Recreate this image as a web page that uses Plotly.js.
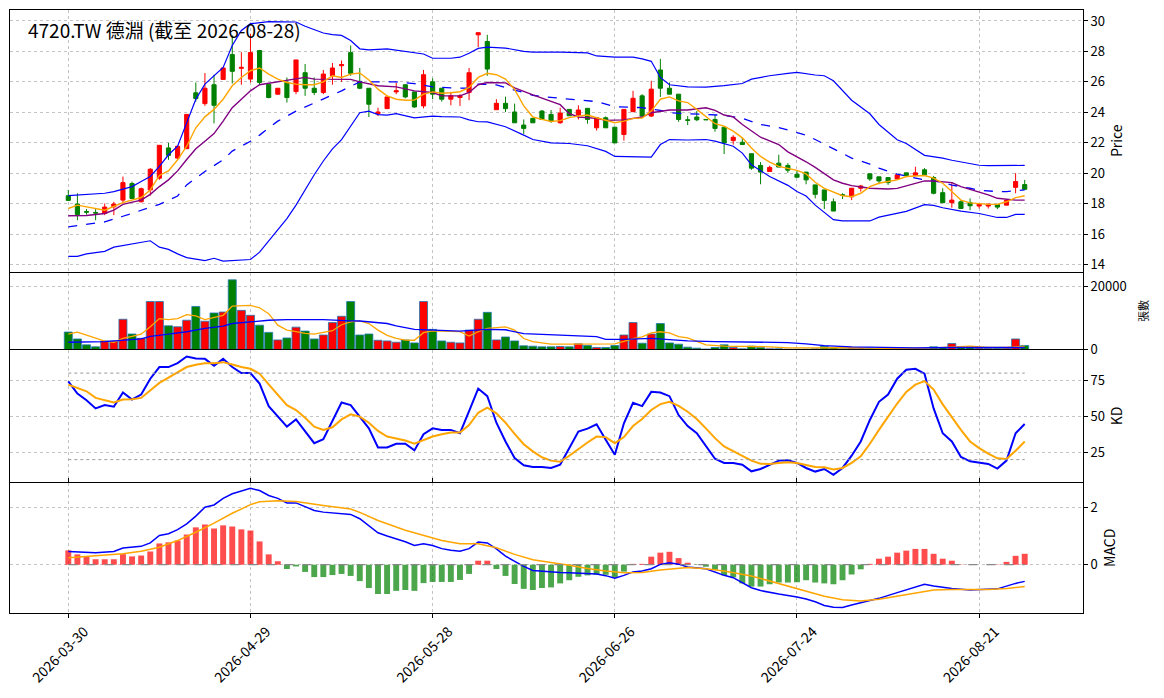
<!DOCTYPE html>
<html>
<head>
<meta charset="utf-8">
<script src="https://cdn.plot.ly/plotly-3.0.1.min.js"></script>
<style>html,body{margin:0;padding:0;background:#fff;}</style>
</head>
<body>
<div id="chart" style="width:1164px;height:698px;"></div>
<script>
// 4720.TW daily bars
let tickIdx = [0, 20, 40, 60, 80, 100];
let tickLabels = ['2026-03-30', '2026-04-29', '2026-05-28', '2026-06-26', '2026-07-24', '2026-08-21'];

let open = [18.52,17.97,17.48,17.42,17.35,17.79,18.23,19.32,18.12,18.90,
19.67,21.66,20.99,21.61,25.28,24.57,25.81,26.16,27.79,26.89,
26.18,28.06,25.85,25.19,25.96,25.36,26.60,25.58,25.30,26.40,
27.06,27.92,26.03,25.58,23.91,24.24,25.34,25.81,25.34,24.42,
26.00,25.58,24.86,24.97,25.30,29.09,28.65,24.17,24.59,24.02,
23.16,23.60,24.08,23.86,23.31,24.19,23.82,24.26,22.98,23.64,
23.02,22.54,24.04,25.08,23.75,26.78,25.58,25.19,23.51,23.69,
23.53,23.53,23.02,22.14,22.03,21.28,20.51,20.11,20.66,20.51,
19.93,20.07,19.23,18.90,18.12,18.59,18.45,19.01,19.96,19.76,
19.71,19.62,20.02,19.85,20.22,19.71,18.72,18.06,18.12,18.06,
17.84,17.84,17.95,17.90,19.07,19.25];
let high = [18.90,18.68,17.64,17.67,18.01,18.12,19.78,19.45,19.05,20.33,
21.83,21.99,21.77,23.86,25.96,26.58,26.47,26.91,29.05,27.95,
29.16,28.06,25.85,25.58,26.29,27.44,27.17,26.29,26.78,27.24,
27.40,28.39,26.91,25.58,24.30,25.01,25.94,25.81,25.34,26.78,
26.23,25.58,25.34,25.19,26.91,29.23,29.09,24.86,25.03,24.57,
23.53,23.60,24.15,24.15,24.30,24.19,24.46,24.26,23.64,23.73,
23.02,24.19,25.41,25.19,26.07,27.51,25.96,25.19,23.75,24.08,
23.53,23.82,23.02,22.49,22.32,21.28,20.73,20.49,21.21,20.66,
20.15,20.07,19.23,18.90,18.34,18.68,19.01,19.23,19.96,19.76,
19.71,19.89,20.02,20.42,20.33,19.82,19.01,19.40,18.23,18.34,
17.97,17.97,17.95,18.23,20.00,19.56];
let low = [18.21,16.91,17.28,16.91,17.24,17.24,18.01,18.34,18.08,18.52,
19.56,20.88,20.88,21.61,24.70,24.42,23.27,26.16,25.89,25.81,
25.96,25.81,24.92,25.14,24.64,25.19,25.08,25.14,25.19,25.81,
26.00,26.40,25.52,23.69,23.75,24.24,25.19,24.92,24.30,24.26,
24.86,24.70,24.46,24.42,24.79,28.28,26.40,24.17,24.02,23.31,
22.58,23.31,23.53,23.31,23.25,23.77,23.53,23.25,22.80,22.98,
21.99,22.14,24.04,23.75,23.69,25.01,25.19,23.38,23.16,23.42,
23.51,22.72,21.26,21.88,21.88,20.22,19.27,20.11,20.40,20.02,
19.73,19.27,18.34,17.64,17.51,18.30,18.23,18.79,19.49,19.27,
19.23,19.62,19.85,19.85,19.89,18.61,18.06,17.73,17.68,17.57,
17.68,17.68,17.64,17.90,18.68,18.94];
let close = [18.21,17.28,17.44,17.38,17.77,17.97,19.38,18.34,18.98,20.26,
21.83,21.17,21.77,23.86,24.90,25.58,24.46,26.91,26.69,26.95,
27.92,25.96,24.97,25.58,24.97,27.44,25.58,25.30,26.51,26.91,
27.13,26.56,25.58,24.53,24.02,25.01,25.41,25.01,24.35,26.47,
25.19,24.86,25.08,25.08,26.60,29.23,26.84,24.59,24.24,23.31,
22.94,23.31,23.53,23.42,23.95,23.77,24.15,23.53,23.64,22.98,
21.99,24.19,24.92,23.75,25.52,25.58,25.19,23.53,23.47,23.51,
23.51,22.94,21.99,22.36,21.88,20.33,20.07,20.38,20.40,20.20,
19.73,19.56,18.61,18.21,17.51,18.54,19.01,19.16,19.62,19.49,
19.38,19.89,19.85,20.02,19.89,18.68,18.06,18.23,17.68,17.86,
17.97,17.97,17.77,18.23,19.45,18.94];
let volume = [5570,3360,1470,840,2730,2730,9660,4940,3570,15330,
15330,7560,7250,9350,13760,9030,11660,11970,22260,12500,
10920,7770,5460,3050,3680,7140,5880,3360,4620,8610,
10610,15330,4620,4940,2940,2730,2310,3050,2100,15330,
6410,2730,2310,2100,6200,9660,11870,3050,3990,2730,
1160,1050,840,840,950,840,1790,1260,630,630,
1260,4620,8610,2000,4940,8300,2100,1680,740,420,
150,630,1470,630,200,1050,630,210,210,100,
100,100,200,1050,630,210,420,420,420,200,
250,150,150,300,200,840,630,1890,630,840,
420,300,300,420,3360,1260];

// price overlays (sampled points)
let ma5X = [0,1,4,5,6,8,9,10,11,12,13,14,15,16,17,18,19,20,21,22,23,24,25,26,27,28,29,30,31,32,33,34,35,36,37,38,39,40,41,42,43,44,45,46,47,48,49,50,51,52,53,54,55,56,57,58,59,60,61,62,63,64,65,66,67,68,69,70,71,72,73,74,75,76,77,78,79,80,81,82,83,84,85,86,87,88,89,90,91,92,93,94,95,96,97,98,99,100,101,102,103,104,105];
let ma5Y = [17.68,17.90,17.57,17.79,18.06,18.40,18.90,19.85,20.15,20.88,21.77,22.98,23.70,24.19,24.86,25.74,26.29,26.73,26.91,26.51,26.18,25.96,25.85,25.81,25.81,26.00,26.40,26.29,26.51,26.58,26.12,25.52,25.08,24.86,24.79,24.80,25.19,25.34,25.25,25.28,25.35,25.63,26.29,26.56,26.47,26.18,25.50,24.42,23.69,23.53,23.40,23.45,23.65,23.75,23.82,23.64,23.47,23.31,23.42,23.60,23.62,24.08,24.86,25.01,24.75,24.64,24.19,23.69,23.25,23.09,22.76,22.32,21.66,21.10,20.73,20.45,20.29,20.18,19.95,19.40,19.00,18.75,18.52,18.45,18.68,19.12,19.34,19.45,19.56,19.78,19.83,19.85,19.67,19.34,18.79,18.23,18.05,18.00,17.95,17.95,18.12,18.39,18.52];
let ma10X = [0,2,4,5,6,8,9,10,11,12,13,14,15,16,17,18,19,20,21,23,24,26,27,28,30,31,32,34,36,38,40,41,43,44,45,46,48,49,51,52,53,54,55,56,58,59,61,63,64,66,68,70,71,72,73,74,76,78,79,80,81,82,84,85,86,88,90,91,92,93,94,95,97,98,99,101,102,104,105];
let ma10Y = [17.20,17.22,17.35,17.57,17.95,18.23,18.61,19.12,19.56,20.15,20.90,21.60,22.10,22.60,23.42,24.30,24.86,25.41,25.81,26.00,26.14,26.29,26.18,26.18,26.14,26.16,26.00,25.74,25.67,25.41,25.30,25.08,25.08,25.30,25.81,25.96,25.93,25.60,25.14,24.92,24.75,24.50,23.91,23.69,23.60,23.47,23.50,23.69,23.97,24.15,24.15,24.30,24.13,23.82,23.70,23.20,22.36,21.88,21.40,21.10,20.75,20.38,19.56,19.34,19.18,19.01,18.96,19.00,19.15,19.34,19.49,19.49,19.38,19.12,18.95,18.57,18.35,18.23,18.23];
let ma20X = [0,2,4,6,8,10,12,13,15,17,18,20,21,23,25,27,28,30,32,33,35,36,38,40,42,44,45,47,48,50,51,52,54,57,58,60,62,63,65,66,68,70,72,74,76,78,79,80,81,82,84,86,88,89,91,93,94,96,97,99,100,102,103,105];
let ma20Y = [16.47,16.62,16.80,17.17,17.57,17.95,18.50,19.23,20.11,20.88,21.45,22.10,22.50,23.42,24.08,24.60,24.90,25.41,26.00,26.00,26.00,26.00,25.89,25.67,25.60,25.58,25.85,25.80,25.63,25.30,25.12,25.03,24.92,24.80,24.70,24.37,24.30,24.30,24.13,23.97,23.91,23.87,23.80,23.60,23.20,23.00,22.85,22.65,22.50,22.21,21.59,20.99,20.60,20.33,19.93,19.68,19.56,19.40,19.22,19.01,18.88,18.79,18.79,18.90];
let bbUpX = [0,4,5,7,8,9,10,11,12,13,14,15,17,18,19,20,22,25,26,28,29,30,31,32,33,35,37,39,40,42,43,44,45,46,48,50,51,54,57,58,60,62,63,64,65,66,68,70,72,73,74,75,77,79,80,82,83,84,86,88,89,91,92,94,96,97,100,101,103,105];
let bbUpY = [18.52,18.68,18.79,19.12,19.45,19.78,20.44,21.21,21.77,23.31,24.86,25.85,26.95,28.39,29.38,29.82,29.95,29.93,29.65,29.21,29.10,29.05,28.72,28.17,28.10,28.17,28.01,27.83,27.55,27.55,27.62,27.88,28.20,28.28,28.22,28.00,27.95,27.95,27.90,27.70,27.63,27.62,27.51,27.35,26.29,25.81,25.67,25.65,25.75,25.81,25.89,26.18,26.40,26.56,26.62,26.45,26.40,26.07,24.79,23.90,23.20,22.20,21.95,21.17,20.99,20.85,20.52,20.49,20.49,20.51];
let bbLoX = [0,1,2,4,5,7,9,10,11,12,13,15,16,17,20,21,23,24,25,26,27,28,29,30,31,32,33,34,35,36,38,40,41,43,44,45,46,48,50,51,53,54,55,57,58,59,60,63,64,65,66,68,70,71,72,73,74,75,77,79,80,81,82,83,84,85,87,88,89,91,92,94,95,96,98,100,102,103,104,105];
let bbLoY = [14.53,14.53,14.70,14.86,15.14,15.36,15.56,15.14,14.99,14.70,14.45,14.26,14.41,14.22,14.33,14.81,16.30,17.02,17.90,18.90,19.90,20.80,21.60,22.20,23.10,23.97,24.08,23.85,23.82,23.91,23.64,23.75,23.72,23.69,23.50,23.38,23.37,23.05,22.50,22.21,21.99,21.99,21.95,21.80,21.60,21.43,21.10,21.06,21.06,21.88,22.21,22.18,22.21,22.10,21.92,21.77,21.32,20.55,19.78,19.20,18.80,18.50,17.90,17.40,16.95,16.87,16.85,16.86,17.11,17.38,17.49,17.93,17.88,17.73,17.51,17.35,17.09,17.09,17.29,17.29];

// volume averages (sampled points)
let vma5X = [0,1,2,3,4,5,6,7,8,9,10,11,12,13,14,15,16,17,18,19,20,21,22,23,24,25,26,27,28,29,30,31,32,33,34,35,36,37,38,39,40,41,42,43,44,45,46,47,48,49,50,51,52,53,55,58,60,61,62,63,64,65,66,67,68,69,70,72,73,75,77,79,82,84,86,88,91,95,97,99,101,103,105];
let vma5Y = [4935,5565,4620,3700,2700,2310,3570,4200,4900,7245,9870,9555,9870,11130,10710,9555,10200,10920,13860,14000,14070,13335,11445,7770,6195,5700,5145,4935,5500,6000,7900,8820,9135,8295,6195,4500,3570,3000,2940,5355,5985,5950,5900,5700,4305,5670,6720,7000,7245,6195,3500,2520,2000,1700,1680,1680,1785,2600,3500,4000,5300,5670,5300,4095,3700,2600,1470,1050,945,945,840,525,525,630,630,420,315,525,840,1050,630,630,1050];
let vma20X = [0,4,8,9,11,13,15,17,18,20,22,24,28,31,32,35,36,38,41,43,46,48,50,53,55,58,59,61,64,66,68,71,75,79,81,83,86,89,93,97,105];
let vma20Y = [2310,2520,3360,4200,4935,5670,6720,7455,8295,8820,9345,9555,9555,9135,9100,8295,7560,6405,6195,5880,6405,6300,5040,4620,4410,4095,3255,3255,3570,3255,2730,2520,2310,2205,1785,1260,840,630,525,630,630];

// KD
let kLine = [74.3,65.8,61.2,55.5,57.8,56.7,66.5,61.7,65.1,76.1,
84.2,84.2,86.9,91.5,90.1,89.9,85.1,89.9,84.2,80.0,
80.0,72.7,57.1,50.2,42.9,47.9,39.4,31.4,34.2,46.8,
59.6,57.8,49.8,41.7,28.4,28.4,31.0,31.0,26.4,37.6,
41.7,40.6,40.6,38.3,53.7,69.3,64.0,45.6,32.6,21.1,
16.1,14.9,14.9,14.2,16.5,28.0,39.4,41.5,44.5,33.7,
23.4,45.2,59.4,57.1,67.0,66.5,64.0,50.9,43.3,38.3,
29.1,20.6,17.7,17.7,16.5,11.9,13.5,16.5,19.3,19.5,
17.7,14.2,11.7,13.5,9.4,14.2,22.7,32.6,47.5,60.1,
65.1,76.1,82.3,83.0,79.6,55.5,38.3,32.6,21.8,18.8,
18.1,17.0,13.8,19.3,38.3,44.7];
let dLine = [72.0,69.9,67.4,62.8,61.2,59.6,61.7,61.9,62.8,68.1,
73.2,76.8,80.3,84.2,85.8,86.9,86.9,87.6,86.0,84.2,
83.0,79.6,72.2,65.1,57.8,54.4,49.1,42.9,40.6,42.4,
47.9,51.4,49.8,45.6,39.9,36.0,34.6,33.3,31.0,33.3,
36.0,37.6,38.8,38.8,44.0,52.5,56.0,52.1,45.6,37.8,
30.7,25.7,21.6,19.3,18.6,22.7,27.5,31.9,36.0,35.6,
31.4,35.6,43.3,48.2,54.4,58.5,60.1,57.3,53.2,48.2,
41.7,34.9,29.1,25.7,22.7,19.3,17.2,17.0,17.7,18.1,
17.7,16.5,14.9,14.7,13.1,14.2,17.7,22.3,31.0,40.6,
49.8,58.9,67.0,72.0,74.5,68.6,58.3,49.1,40.6,32.6,
28.0,24.1,20.9,20.4,26.1,32.6];

// MACD
let macdHist = [0.50,0.36,0.29,0.19,0.19,0.19,0.37,0.29,0.32,0.46,
0.74,0.78,0.84,1.05,1.30,1.40,1.26,1.37,1.33,1.23,
1.19,0.81,0.36,0.12,-0.15,-0.06,-0.25,-0.43,-0.43,-0.36,
-0.32,-0.39,-0.57,-0.81,-1.02,-1.02,-0.91,-0.88,-0.91,-0.64,
-0.60,-0.60,-0.60,-0.53,-0.32,0.14,0.14,-0.15,-0.39,-0.67,
-0.84,-0.88,-0.81,-0.79,-0.65,-0.54,-0.42,-0.37,-0.35,-0.35,
-0.45,-0.24,0.03,0.03,0.28,0.42,0.45,0.23,0.07,-0.01,
-0.07,-0.18,-0.37,-0.44,-0.65,-0.76,-0.76,-0.68,-0.62,-0.62,
-0.61,-0.54,-0.62,-0.65,-0.68,-0.54,-0.34,-0.16,0.03,0.21,
0.28,0.42,0.49,0.55,0.55,0.38,0.21,0.14,0.01,0.00,
0.00,0.00,0.01,0.10,0.31,0.38];
let difX = [0,3,5,6,8,9,10,11,12,13,14,15,16,17,18,20,21,22,23,24,25,27,28,30,31,32,33,34,35,37,38,39,40,41,42,43,44,45,46,47,48,50,51,53,54,55,57,58,59,60,61,62,63,64,65,66,67,68,70,71,72,73,74,75,76,77,78,80,81,82,83,84,85,86,88,89,91,93,94,95,97,99,100,102,104,105];
let difY = [0.46,0.42,0.46,0.58,0.64,0.76,1.02,1.08,1.22,1.42,1.69,2.00,2.08,2.31,2.47,2.66,2.58,2.41,2.31,2.15,2.15,1.89,1.83,1.79,1.75,1.60,1.35,1.11,1.00,0.80,0.67,0.73,0.67,0.56,0.50,0.47,0.56,0.79,0.76,0.55,0.30,-0.06,-0.20,-0.26,-0.27,-0.28,-0.30,-0.32,-0.38,-0.47,-0.37,-0.25,-0.22,-0.14,0.01,0.07,0.02,-0.08,-0.14,-0.25,-0.37,-0.45,-0.62,-0.80,-0.90,-0.97,-1.02,-1.12,-1.19,-1.29,-1.42,-1.48,-1.49,-1.40,-1.26,-1.17,-0.97,-0.77,-0.68,-0.74,-0.83,-0.88,-0.87,-0.84,-0.65,-0.58];
let deaX = [0,4,6,8,10,12,14,16,18,20,21,23,25,28,31,32,34,37,39,41,43,45,47,49,51,53,55,57,59,61,63,65,67,68,70,72,75,77,79,81,83,85,87,89,91,93,95,97,99,101,103,105];
let deaY = [0.24,0.32,0.38,0.47,0.61,0.84,1.13,1.45,1.79,2.09,2.19,2.23,2.20,2.06,1.94,1.82,1.54,1.20,1.02,0.84,0.73,0.73,0.59,0.36,0.17,0.08,-0.02,-0.13,-0.22,-0.28,-0.27,-0.18,-0.12,-0.10,-0.14,-0.22,-0.39,-0.57,-0.74,-0.91,-1.10,-1.22,-1.26,-1.20,-1.09,-0.97,-0.88,-0.86,-0.86,-0.86,-0.83,-0.76];

let idx = close.map((c, i) => i);
let volColors = close.map((c, i) => c >= open[i] ? 'red' : 'green');
let histColors = macdHist.map(v => v >= 0 ? 'rgba(255,0,0,0.7)' : 'rgba(0,128,0,0.7)');

let font = '"Noto Sans CJK TC", "Noto Sans", sans-serif';

let candles = {
    type: 'candlestick',
    x: idx, open: open, high: high, low: low, close: close,
    increasing: { line: { color: 'red', width: 1 }, fillcolor: 'red' },
    decreasing: { line: { color: 'green', width: 1 }, fillcolor: 'green' },
    whiskerwidth: 0,
    xaxis: 'x', yaxis: 'y',
};

function line(x, y, color, width, yaxis, dash) {
    return {
        type: 'scatter', mode: 'lines', x: x, y: y,
        line: { color: color, width: width, dash: dash || 'solid' },
        xaxis: 'x', yaxis: yaxis,
    };
}

let volBars = {
    type: 'bar', x: idx, y: volume, width: 0.88,
    marker: { color: volColors, line: { color: '#1f77b4', width: 0.8 } },
    xaxis: 'x', yaxis: 'y2',
};

let histBars = {
    type: 'bar', x: idx, y: macdHist, width: 0.65,
    marker: { color: histColors, line: { width: 0 } },
    xaxis: 'x', yaxis: 'y4',
};

let data = [
    line(bbUpX, bbUpY, 'blue', 1.2, 'y'),
    line(bbLoX, bbLoY, 'blue', 1.2, 'y'),
    line(ma20X, ma20Y, 'blue', 1.3, 'y', 'dash'),
    line(ma10X, ma10Y, 'purple', 1.4, 'y'),
    line(ma5X, ma5Y, 'orange', 1.4, 'y'),
    candles,
    volBars,
    line(vma5X, vma5Y, 'orange', 1.3, 'y2'),
    line(vma20X, vma20Y, 'blue', 1.3, 'y2'),
    line(idx, kLine, 'blue', 2, 'y3'),
    line(idx, dLine, 'orange', 2, 'y3'),
    histBars,
    line(difX, difY, 'blue', 1.5, 'y4'),
    line(deaX, deaY, 'orange', 1.5, 'y4'),
];

let grid = { showgrid: true, gridcolor: '#c4c4c4', griddash: 'dot', gridwidth: 1 };
function yax(domain, range, tickvals, title, titleSize, standoff) {
    return Object.assign({
        domain: domain, range: range, tickvals: tickvals, tickformat: 'd', side: 'right', anchor: 'x',
        showline: true, mirror: true, linecolor: 'black', linewidth: 1,
        ticks: 'outside', ticklen: 4, tickcolor: 'black', zeroline: false,
        tickfont: { family: font, size: 13, color: 'black' },
        title: { text: title, font: { family: font, size: titleSize, color: 'black' }, standoff: standoff },
    }, grid);
}

// 1px gaps so the panel borders fall on one pixel row
let px = 1 / 603;
let last = idx.length - 1;
let layout = {
    width: 1164, height: 698,
    margin: { l: 10, r: 81, t: 10, b: 85 },
    paper_bgcolor: 'white', plot_bgcolor: 'white',
    showlegend: false, hovermode: false, barmode: 'overlay', boxgap: 0.35,
    xaxis: Object.assign({
        range: [-6.4, 111.4], anchor: 'y4', tickvals: tickIdx, ticktext: tickLabels,
        tickangle: -45, ticklabelshift: 16, ticks: 'outside', ticklen: 4, tickcolor: 'black',
        showline: true, mirror: 'all', linecolor: 'black', linewidth: 1, zeroline: false,
        tickfont: { family: font, size: 14, color: 'black' },
        rangeslider: { visible: false },
    }, grid),
    yaxis: yax([0.5655 + px / 2, 1], [13.54, 30.72], [14, 16, 18, 20, 22, 24, 26, 28, 30], 'Price', 14, 8),
    yaxis2: yax([0.4362 + px / 2, 0.5655 - px / 2], [0, 24600], [0, 20000], '張數', 11, 14),
    yaxis3: yax([0.2172 + px / 2, 0.4362 - px / 2], [4.8, 95.7], [25, 50, 75], 'KD', 14, 8),
    yaxis4: yax([0, 0.2172 - px / 2], [-1.68, 2.86], [0, 2], 'MACD', 14, 8),
    shapes: [
        { type: 'line', xref: 'x', yref: 'y3', x0: 0, x1: last, y0: 80, y1: 80, line: { color: '#999', width: 1, dash: 'dot' } },
        { type: 'line', xref: 'x', yref: 'y3', x0: 0, x1: last, y0: 20, y1: 20, line: { color: '#999', width: 1, dash: 'dot' } },
        { type: 'line', xref: 'x', yref: 'y4', x0: 0, x1: last, y0: 0, y1: 0, line: { color: '#888', width: 1.2, dash: 'dash' } },
    ],
    annotations: [{
        text: '4720.TW 德淵 (截至 2026-08-28)', xref: 'paper', yref: 'paper',
        x: 0.0149, y: 0.967, xanchor: 'left', yanchor: 'middle', showarrow: false,
        font: { family: font, size: 19, color: 'black' },
    }],
};

Plotly.newPlot('chart', data, layout, { displayModeBar: false, staticPlot: true });
</script>
</body>
</html>
